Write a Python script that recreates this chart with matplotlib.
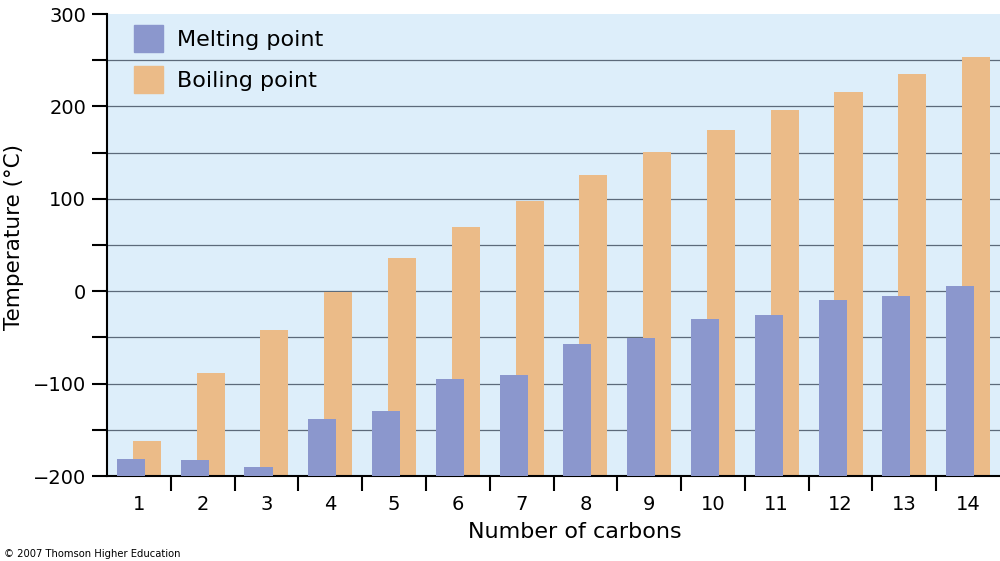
import numpy as np
import matplotlib.pyplot as plt
from matplotlib.patches import Patch

carbons = [1, 2, 3, 4, 5, 6, 7, 8, 9, 10, 11, 12, 13, 14]
melting = [-182, -183, -190, -138, -130, -95, -91, -57, -51, -30, -26, -10, -5, 6]
boiling = [-162, -88, -42, -1, 36, 69, 98, 126, 151, 174, 196, 216, 235, 254]

blue = "#8b97cd"
tan = "#ebbb88"
bg = "#ddeefa"
grid = "#5c6a7a"

fig = plt.figure(figsize=(10, 5.61), dpi=100)
ax = fig.add_axes([0.107, 0.1515, 0.893, 0.8235])
ax.set_facecolor(bg)

x = np.arange(len(carbons))
w = 0.44
base = -200
ax.bar(x + 0.125, np.array(boiling) - base, w, bottom=base, color=tan, zorder=2)
ax.bar(x - 0.125, np.array(melting) - base, w, bottom=base, color=blue, zorder=3)

ax.set_ylim(-200, 300)
ax.set_xlim(-0.5, len(carbons) - 0.5)
ax.set_yticks([-200, -100, 0, 100, 200, 300])
ax.set_yticks(np.arange(-150, 300, 100), minor=True)
ax.set_yticklabels(["\u2212200", "\u2212100", "0", "100", "200", "300"])
for yv in np.arange(-150, 300, 50):
    ax.axhline(yv, color=grid, lw=0.9, zorder=1)

ax.set_xticks(x)
ax.set_xticklabels([str(c) for c in carbons])
ax.set_xticks(np.arange(0.5, len(carbons) - 0.5, 1), minor=True)
ax.tick_params(axis="x", which="major", length=0, labelsize=14, pad=14)
ax.tick_params(axis="x", which="minor", length=11, width=1.5, direction="out")
ax.tick_params(axis="y", which="both", length=11, width=1.5, direction="out", labelsize=14, pad=4)

for s in ["top", "right"]:
    ax.spines[s].set_visible(False)
ax.spines["left"].set_linewidth(1.5)
ax.spines["bottom"].set_linewidth(1.5)

ax.set_ylabel("Temperature (\u00b0C)", fontsize=15.5)
ax.yaxis.set_label_coords(-0.093, 0.517)
ax.set_xlabel("Number of carbons", fontsize=16)
ax.xaxis.set_label_coords(0.5235, -0.099)

handles = [Patch(color=blue, label="Melting point"), Patch(color=tan, label="Boiling point")]
ax.legend(handles=handles, loc="upper left", bbox_to_anchor=(0.0077, 1.019), frameon=False,
          fontsize=16, handlelength=1.3, handleheight=1.5, handletextpad=0.63, labelspacing=0.6)

fig.text(0.004, 0.008, "\u00a9 2007 Thomson Higher Education", fontsize=7.2)

fig.savefig("out.png", dpi=100)
